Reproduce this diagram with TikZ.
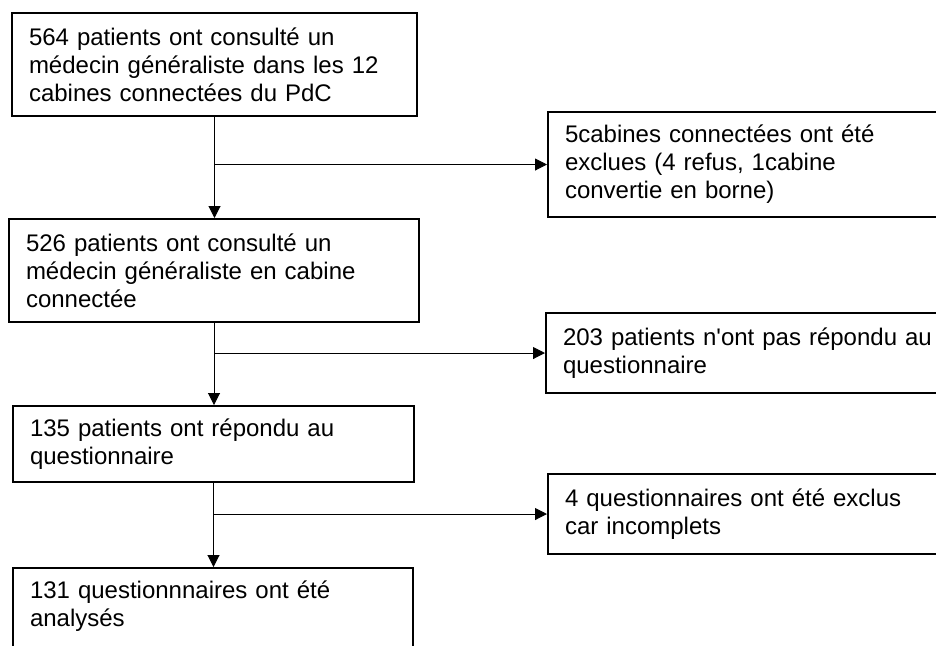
\documentclass[tikz,border=0pt]{standalone}
\usepackage{fontspec}
\setmainfont{Liberation Sans}
\usetikzlibrary{arrows.meta}
\tikzset{>={Triangle[length=6pt,width=6pt]}}
\tikzset{box/.style={draw,line width=1pt,anchor=north west,align=left,inner xsep=8.5pt,inner ysep=0pt,font=\fontsize{12pt}{14pt}\selectfont}}
\tikzset{link/.style={->,line width=0.5pt}}

\begin{document}
\begin{tikzpicture}[x=0.5pt,y=-0.5pt]
            \useasboundingbox (0,0) rectangle (936,645);
            \clip (0,0) rectangle (936,645);
            \node[box,text width=185.5pt,minimum height=51.5pt] (b1) at (11,12) {564 patients ont consulté un\\médecin généraliste dans les 12\\cabines connectées du PdC};
            \node[box,text width=188pt,minimum height=51.5pt] (b2) at (8,218) {526 patients ont consulté un\\médecin généraliste en cabine\\connectée};
            \node[box,text width=183.5pt,minimum height=38pt] (b3) at (12,405) {135 patients ont répondu au\\questionnaire};
            \node[box,text width=183pt,text height=11pt,text depth=50pt,inner ysep=4pt] (b4) at (12,567) {131 questionnnaires ont été\\analysés};
            \node[box,text width=190pt,minimum height=52.5pt] (r1) at (547,111) {5cabines connectées ont été\\exclues (4 refus, 1cabine\\convertie en borne)};
            \node[box,text width=190pt,minimum height=40pt] (r2) at (545,312) {203 patients n\textquotesingle ont pas répondu au\\questionnaire};
            \node[box,text width=190pt,minimum height=40pt] (r3) at (547,473) {4 questionnaires ont été exclus\\car incomplets};
            \draw[link] (b1.south) -- (b1.south |- b2.north);
            \draw[link] (b2.south) -- (b2.south |- b3.north);
            \draw[link] (b3.south) -- (b3.south |- b4.north);
            \draw[link] (b1.south |- r1.west) -- (r1.west);
            \draw[link] (b2.south |- r2.west) -- (r2.west);
            \draw[link] (b3.south |- r3.west) -- (r3.west);
        \end{tikzpicture}
\end{document}
